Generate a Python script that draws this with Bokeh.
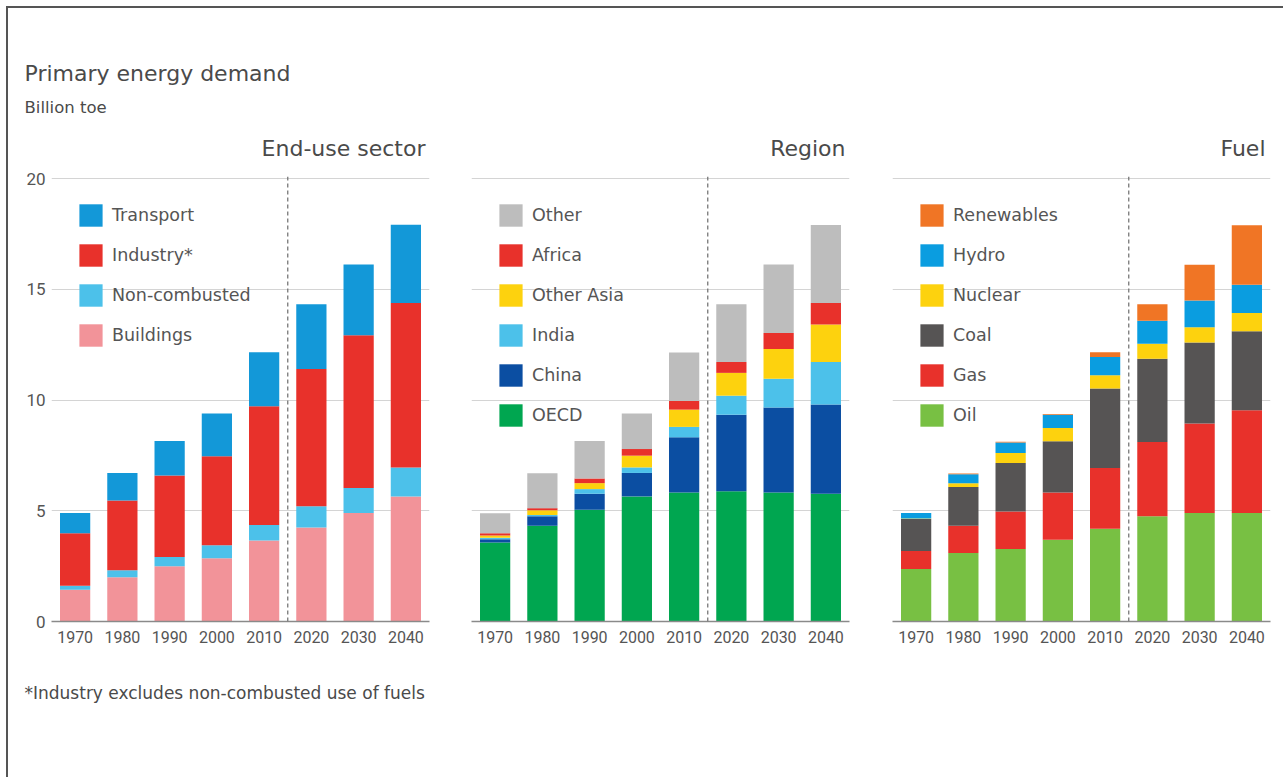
from bokeh.plotting import figure
from bokeh.models import (ColumnDataSource, FactorRange, Range1d, FixedTicker,
                          Legend, LegendItem, Span)
from bokeh.layouts import row, column
from bokeh.core.properties import value
from bokeh.embed import file_html
from bokeh.resources import INLINE

# ---------------- data ----------------
years = ["1970", "1980", "1990", "2000", "2010", "2020", "2030", "2040"]
n_historic = 5          # 1970-2010 historic, 2020-2040 projections
y_ticks = [0, 5, 10, 15, 20]

# End-use sector (billion toe), bottom -> top
sector_names = ["Buildings", "Non-combusted", "Industry*", "Transport"]
buildings     = [1.43, 2.00, 2.49, 2.86, 3.66, 4.25, 4.90, 5.65]
non_combusted = [0.18, 0.31, 0.42, 0.58, 0.70, 0.96, 1.13, 1.31]
industry      = [2.38, 3.15, 3.69, 4.02, 5.36, 6.20, 6.90, 7.43]
transport     = [0.91, 1.25, 1.55, 1.94, 2.44, 2.92, 3.19, 3.53]
sector_colors = ["#f29399", "#4cc1ea", "#e8312b", "#1398d8"]

# Region
region_names = ["OECD", "China", "India", "Other Asia", "Africa", "Other"]
oecd       = [3.57, 4.32, 5.05, 5.65, 5.83, 5.88, 5.83, 5.77]
china      = [0.15, 0.43, 0.72, 1.06, 2.49, 3.46, 3.84, 4.03]
india      = [0.06, 0.06, 0.21, 0.25, 0.47, 0.86, 1.29, 1.92]
other_asia = [0.11, 0.21, 0.27, 0.53, 0.78, 1.03, 1.35, 1.69]
africa     = [0.10, 0.10, 0.21, 0.30, 0.39, 0.49, 0.72, 0.98]
other      = [0.90, 1.58, 1.69, 1.60, 2.19, 2.61, 3.09, 3.52]
region_colors = ["#00a650", "#0b4ea2", "#4cc1ea", "#fdd20e", "#e8312b", "#bdbdbd"]

# Fuel
fuel_names = ["Oil", "Gas", "Coal", "Nuclear", "Hydro", "Renewables"]
oil        = [2.37, 3.09, 3.27, 3.69, 4.19, 4.75, 4.90, 4.90]
gas        = [0.82, 1.23, 1.70, 2.14, 2.74, 3.36, 4.04, 4.64]
coal       = [1.44, 1.75, 2.19, 2.31, 3.59, 3.76, 3.66, 3.57]
nuclear    = [0.02, 0.18, 0.45, 0.60, 0.60, 0.67, 0.69, 0.83]
hydro      = [0.25, 0.40, 0.48, 0.60, 0.83, 1.04, 1.21, 1.27]
renewables = [0.00, 0.03, 0.03, 0.03, 0.21, 0.75, 1.61, 2.69]
fuel_colors = ["#78c043", "#e8312b", "#565454", "#fdd20e", "#0a9de0", "#f07525"]

main_title = "Primary energy demand"
unit_label = "Billion toe"
panel_titles = ["End-use sector", "Region", "Fuel"]
footnote = "*Industry excludes non-combusted use of fuels"

TXT = "#4a4a4a"
FONT = "DejaVu Sans"
TOTAL_W = 1275


def blank_fig(w, h):
    f = figure(width=w, height=h, x_range=Range1d(0, w), y_range=Range1d(0, h),
               output_backend="svg", toolbar_location=None,
               x_axis_location=None, y_axis_location=None,
               min_border=0)
    f.outline_line_color = None
    f.xgrid.visible = False
    f.ygrid.visible = False
    return f


# ---------------- header (title, unit, panel titles) ----------------
HEAD_H = 158
header = blank_fig(TOTAL_W, HEAD_H)
header.text(x=[16], y=[HEAD_H - 65], text=[main_title], text_align="left",
            text_baseline="middle", text_font=value(FONT),
            text_font_size="22px", text_color=TXT)
header.text(x=[16], y=[HEAD_H - 99], text=[unit_label], text_align="left",
            text_baseline="middle", text_font=value(FONT),
            text_font_size="16.5px", text_color=TXT)
header.text(x=[417, 837, 1257], y=[HEAD_H - 140] * 3, text=panel_titles,
            text_align="right", text_baseline="middle", text_font=value(FONT),
            text_font_size="22px", text_color=TXT)


def make_panel(names, series, colors, width, b_left, b_right, show_y):
    data = {"year": years}
    for nm, s in zip(names, series):
        data[nm] = s
    src = ColumnDataSource(data)
    p = figure(x_range=FactorRange(*years), y_range=Range1d(0, 20.1),
               width=width, height=495, output_backend="svg",
               toolbar_location=None, min_border_left=b_left,
               min_border_right=b_right, min_border_top=10,
               min_border_bottom=40)
    p.outline_line_color = None
    rends = p.vbar_stack(names, x="year", width=0.64, color=colors,
                         line_color=None, source=src)
    p.yaxis.ticker = FixedTicker(ticks=y_ticks)
    p.yaxis.axis_line_color = None
    p.yaxis.major_tick_line_color = None
    p.yaxis.major_tick_out = 0
    p.yaxis.minor_tick_line_color = None
    p.yaxis.major_label_standoff = 6
    p.yaxis.major_label_text_font = "Roboto"
    p.yaxis.major_label_text_font_size = "17px"
    p.yaxis.major_label_text_color = "#555555"
    p.yaxis.visible = show_y
    p.xaxis.axis_line_color = "#8a8a8a"
    p.xaxis.axis_line_width = 1.5
    p.xaxis.major_tick_line_color = None
    p.xaxis.major_tick_out = 0
    p.xaxis.minor_tick_line_color = None
    p.xaxis.major_label_standoff = 9
    p.xaxis.major_label_text_font = "Roboto"
    p.xaxis.major_label_text_font_size = "16px"
    p.xaxis.major_label_text_color = "#555555"
    p.xgrid.grid_line_color = None
    p.ygrid.grid_line_color = "#d4d4d4"
    p.ygrid.grid_line_width = 1
    p.add_layout(Span(location=n_historic, dimension="height",
                      line_color="#777777", line_dash="4 3", line_width=1.3))
    items = [LegendItem(label=nm, renderers=[r])
             for nm, r in zip(names[::-1], rends[::-1])]
    leg = Legend(items=items, location="top_left", margin=25, padding=0,
                 spacing=12, glyph_width=29, glyph_height=28, label_height=28,
                 label_standoff=7, label_text_font=FONT,
                 label_text_font_size="17.5px", label_text_color="#555555",
                 border_line_color=None, background_fill_alpha=0.0)
    p.add_layout(leg)
    return p


p1 = make_panel(sector_names, [buildings, non_combusted, industry, transport],
                sector_colors, 442, 43, 21, True)
p2 = make_panel(region_names, [oecd, china, india, other_asia, africa, other],
                region_colors, 421, 21, 22, False)
p3 = make_panel(fuel_names, [oil, gas, coal, nuclear, hydro, renewables],
                fuel_colors, 404, 21, 5, False)

# ---------------- footer (footnote) ----------------
FOOT_H = 116
footer = blank_fig(TOTAL_W, FOOT_H)
footer.text(x=[16], y=[FOOT_H - 31], text=[footnote], text_align="left",
            text_baseline="middle", text_font=value(FONT),
            text_font_size="17px", text_color=TXT)

layout = column(header, row(p1, p2, p3), footer,
                styles={"border-top": "2px solid #555555",
                        "border-left": "2px solid #555555",
                        "margin-top": "6px", "margin-left": "6px"})

open("out.html", "w").write(file_html(layout, INLINE))
